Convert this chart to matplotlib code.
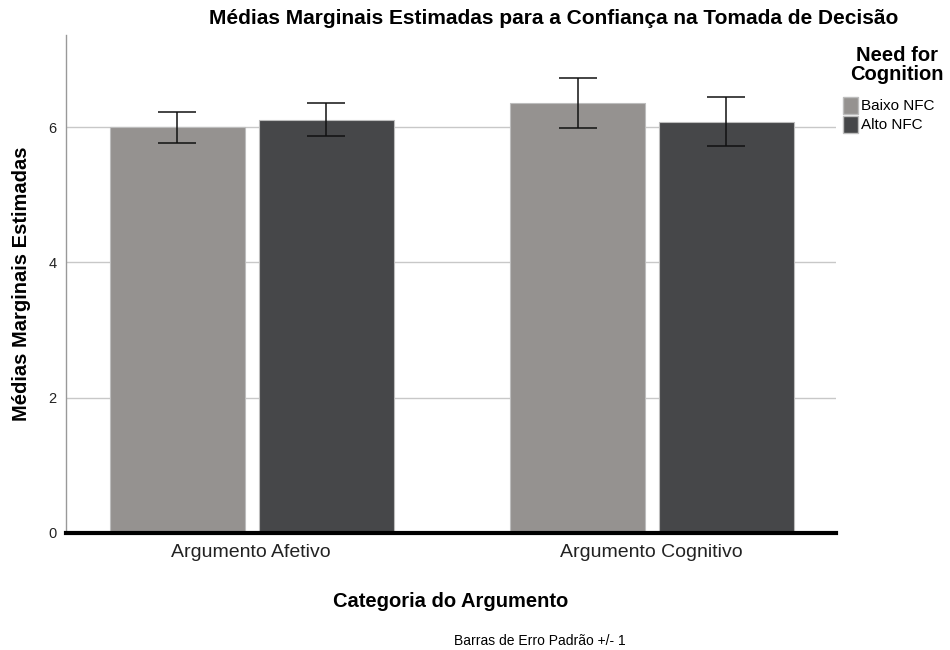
import matplotlib
matplotlib.use("Agg")
import matplotlib.pyplot as plt
import numpy as np
from matplotlib.patches import Patch

plt.rcParams['font.family'] = ['Liberation Sans', 'DejaVu Sans']

categories = ["Argumento Afetivo", "Argumento Cognitivo"]
groups = ["Baixo NFC", "Alto NFC"]
means = {
    "Baixo NFC": [6.00, 6.36],
    "Alto NFC": [6.11, 6.08],
}
std_err = {
    "Baixo NFC": [0.23, 0.37],
    "Alto NFC": [0.24, 0.36],
}
colors = {"Baixo NFC": "#959290", "Alto NFC": "#464749"}
yticks = [0, 2, 4, 6]

W, H = 950, 650
fig = plt.figure(figsize=(9.5, 6.5), dpi=100)
ax = fig.add_axes([0.0695, 0.18, 0.81, 0.766])

x = np.arange(len(categories))
width = 0.3375
offsets = [-0.184, 0.1875]
for g, off in zip(groups, offsets):
    ax.bar(x + off, means[g], width, color=colors[g], edgecolor="#bdbdbd",
           linewidth=0.8, zorder=3)
    ax.errorbar(x + off, means[g], yerr=std_err[g], fmt="none", ecolor="#111111",
                elinewidth=1.1, capsize=14, capthick=1.1, zorder=4)

ax.set_xlim(-0.4625, 1.46)
ax.set_ylim(0, 7.36)
ax.set_yticks(yticks)
ax.set_yticklabels([str(t) for t in yticks], fontsize=10.5, color="#222222")
ax.set_xticks(x)
ax.set_xticklabels(categories, fontsize=14, color="#222222")
ax.tick_params(axis="y", length=0, pad=7)
ax.tick_params(axis="x", length=0, pad=8)
ax.yaxis.grid(True, color="#c8c8c8", linewidth=1.0, zorder=0)
ax.set_axisbelow(True)
for s in ["top", "right"]:
    ax.spines[s].set_visible(False)
ax.spines["left"].set_color("#999999")
ax.spines["left"].set_linewidth(1.0)
ax.spines["bottom"].set_color("black")
ax.spines["bottom"].set_linewidth(3)
ax.spines["bottom"].set_zorder(5)

ax.set_xlabel("Categoria do Argumento", fontsize=14.5, fontweight="bold", labelpad=22)
ax.set_ylabel("Médias Marginais Estimadas", fontsize=14.5, fontweight="bold", labelpad=12)
fig.text(554 / W, 1 - 19 / H,
         "Médias Marginais Estimadas para a Confiança na Tomada de Decisão",
         ha="center", va="center", fontsize=15, fontweight="bold")
fig.text(540 / W, 1 - 641 / H, "Barras de Erro Padrão +/- 1",
         ha="center", va="center", fontsize=10)

# legend: title as separate text, entries below
fig.text(897 / W, 1 - 65 / H, "Need for\nCognition", ha="center", va="center",
         fontsize=14.5, fontweight="bold", multialignment="center", linespacing=0.95)
handles = [Patch(facecolor=colors[g], edgecolor="#bdbdbd") for g in groups]
leg = fig.legend(handles, groups, loc="upper left", bbox_to_anchor=(843 / W, 1 - 97 / H),
                 frameon=False, fontsize=11, handlelength=1.0, handleheight=1.3,
                 handletextpad=0.2, labelspacing=0.15, borderaxespad=0, borderpad=0)

fig.savefig("out.png", dpi=100)
